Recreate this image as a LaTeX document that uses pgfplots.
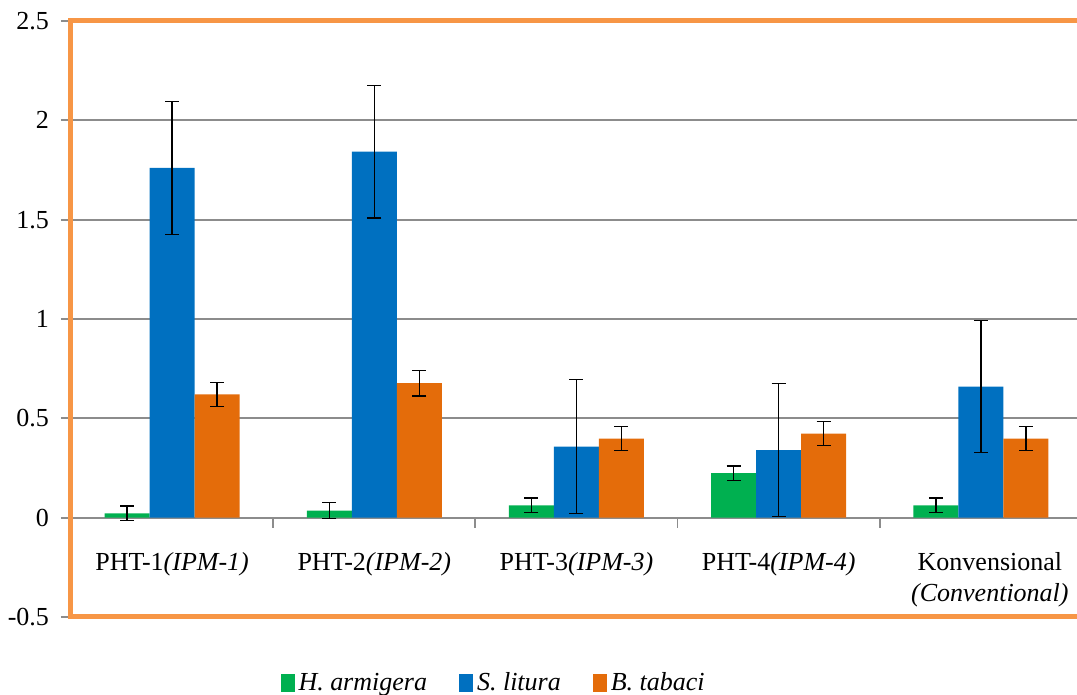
\documentclass[border=0pt]{standalone}
\usepackage{pgfplots}
\pgfplotsset{compat=1.18}
\usepackage{fontspec}
\setmainfont{Liberation Serif}
\definecolor{cg}{RGB}{0,176,80}
\definecolor{cb}{RGB}{0,112,192}
\definecolor{co}{RGB}{228,108,10}
\definecolor{cf}{RGB}{247,150,70}
\definecolor{cgrid}{RGB}{140,140,140}

\pgfplotstableread{
x y e
0 0.022 0.036
1 0.035 0.040
2 0.062 0.036
3 0.224 0.037
4 0.062 0.036
}\harm
\pgfplotstableread{
x y e
0 1.761 0.335
1 1.842 0.333
2 0.358 0.337
3 0.340 0.335
4 0.660 0.333
}\slit
\pgfplotstableread{
x y e
0 0.621 0.060
1 0.677 0.065
2 0.398 0.060
3 0.423 0.060
4 0.398 0.060
}\btab

\begin{document}
\begin{tikzpicture}
\begin{axis}[
  at={(35.5pt,39pt)}, anchor=south west,
  scale only axis, width=505.5pt, height=298pt,
  xmin=-0.5, xmax=4.5, ymin=-0.5, ymax=2.5,
  ytick={-0.5,0,0.5,1,1.5,2,2.5},
  yticklabels={-0.5,0,0.5,1,1.5,2,2.5},
  ymajorgrids, grid style={cgrid, line width=0.9pt},
  xtick={0,1,2,3,4},
  xticklabels={{PHT-1\textit{(IPM-1)}},{PHT-2\textit{(IPM-2)}},{PHT-3\textit{(IPM-3)}},{PHT-4\textit{(IPM-4)}},{\hspace*{9pt}Konvensional\\\hspace*{9pt}\textit{(Conventional)}}},
  x tick style={draw=none},
  y tick style={cgrid, line width=0.9pt},
  tick align=outside, major tick length=5pt,
  axis line style={cf, line width=2.5pt},
  ybar=0pt, bar width=22.5pt,
  y tick label style={font=\fontsize{13pt}{15.6pt}\selectfont, xshift=-2.5pt},
  x tick label style={font=\fontsize{13pt}{15.6pt}\selectfont, align=center, anchor=north, yshift=40.8pt},
  legend style={at={(0.419,-0.111)}, anchor=center, legend columns=-1, draw=none, fill=none,
    font=\fontsize{13pt}{15.6pt}\selectfont\itshape,
    /tikz/every even column/.append style={column sep=14pt}},
  legend image code/.code={\draw[#1, draw=none] (0pt,-4.5pt) rectangle (7pt,4.5pt);},
  clip=false,
]
\addplot[fill=cg, draw=none, error bars/.cd, y dir=both, y explicit,
  error bar style={black, line width=0.7pt},
  error mark options={rotate=90, black, mark size=3.5pt, line width=0.7pt}]
  table[x=x, y=y, y error=e] {\harm};
\addlegendentry{H. armigera}
\addplot[fill=cb, draw=none, error bars/.cd, y dir=both, y explicit,
  error bar style={black, line width=0.7pt},
  error mark options={rotate=90, black, mark size=3.5pt, line width=0.7pt}]
  table[x=x, y=y, y error=e] {\slit};
\addlegendentry{S. litura}
\addplot[fill=co, draw=none, error bars/.cd, y dir=both, y explicit,
  error bar style={black, line width=0.7pt},
  error mark options={rotate=90, black, mark size=3.5pt, line width=0.7pt}]
  table[x=x, y=y, y error=e] {\btab};
\addlegendentry{B. tabaci}
\draw[cgrid, line width=0.9pt] (axis cs:0.5,0) -- ++(0pt,-5pt);
\draw[cgrid, line width=0.9pt] (axis cs:1.5,0) -- ++(0pt,-5pt);
\draw[cgrid, line width=0.9pt] (axis cs:2.5,0) -- ++(0pt,-5pt);
\draw[cgrid, line width=0.9pt] (axis cs:3.5,0) -- ++(0pt,-5pt);
\end{axis}
\pgfresetboundingbox
\path[use as bounding box] (0pt,0pt) rectangle (538.5pt,347.5pt);
\end{tikzpicture}
\end{document}
